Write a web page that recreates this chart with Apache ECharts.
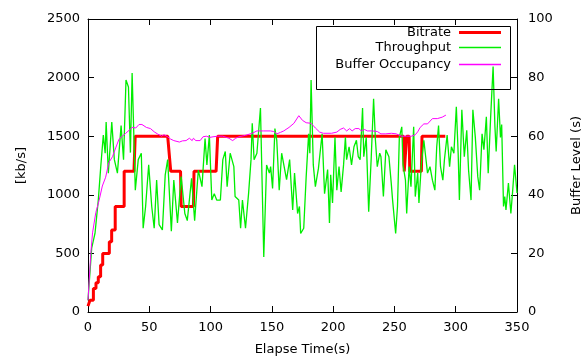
<!DOCTYPE html>
<html>
<head>
<meta charset="utf-8">
<script src="https://cdn.jsdelivr.net/npm/echarts@6/dist/echarts.min.js"></script>
<style>
html,body{margin:0;padding:0;background:#fff;}
#chart{width:587px;height:358px;}
</style>
</head>
<body>
<div id="chart"></div>
<script>
// ---- Data ----
const xTicks = [0, 50, 100, 150, 200, 250, 300, 350];
const leftTicks = [0, 500, 1000, 1500, 2000, 2500];
const rightTicks = [0, 20, 40, 60, 80, 100];

const seriesNames = ['Bitrate', 'Throughput', 'Buffer Occupancy'];

// Bitrate (kb/s), step function: time / value pairs
const bitrateTime = [0, 1.6, 1.6, 4.4, 4.4, 6.5, 6.5, 8.4, 8.4, 10.3, 10.3, 12, 12, 17.4, 17.4, 19.3, 19.3, 22.2, 22.2, 29.5, 29.5, 37.5, 38.5, 65, 67.5, 75.5, 76, 86, 86.5, 104.5, 105.8, 257.5, 258, 259.5, 260, 262, 262.5, 272, 272.5, 291.5];
const bitrateKbps = [50, 50, 100, 100, 200, 200, 250, 250, 300, 300, 400, 400, 500, 500, 600, 600, 700, 700, 900, 900, 1200, 1200, 1500, 1500, 1200, 1200, 900, 900, 1200, 1200, 1500, 1500, 1200, 1200, 1500, 1500, 1200, 1200, 1500, 1500];

// Throughput (kb/s)
const throughputTime = [0, 3, 5.7, 8.4, 10.4, 12.5, 14, 14.8, 16.6, 19.4, 21.5, 24, 27, 29, 31, 33, 34.6, 36, 37, 38.6, 41, 43.5, 45, 47, 49.5, 52, 54, 56, 58, 60.7, 63, 65, 68, 70, 73, 76, 79, 81, 84.5, 87, 90, 93, 95.5, 97, 99, 101, 103, 105, 108, 110, 112, 113.5, 116, 119, 120, 123, 124.5, 126, 128.5, 131, 133, 134, 135.5, 137.8, 140.7, 143.4, 145.7, 148, 149, 150.6, 152.5, 154, 156, 158, 159.5, 162, 164.5, 167, 168.5, 171, 172.5, 173.5, 176, 178, 180, 181, 182, 183.8, 185.5, 188, 189, 191, 193, 195.5, 197, 198, 199.5, 201.5, 203, 204.8, 206.5, 208.5, 210, 211, 213, 215, 217, 219, 220.5, 222, 224, 225, 227, 229, 231, 233, 234.5, 236, 238, 239, 241, 243, 245.5, 247.4, 248.5, 251, 252.5, 254, 256, 257, 259, 260, 262, 263.5, 265.7, 267, 269, 270, 272, 274, 275.5, 277, 279, 281, 283, 284.5, 286, 287.6, 289.5, 290.8, 293, 295, 296.5, 298.5, 300.5, 302, 303, 305, 307, 309, 310.5, 312.5, 314, 316, 318, 319.5, 321.5, 323, 325, 326.5, 328.5, 330.5, 332, 333, 335, 336.5, 337.5, 339, 340, 341, 343, 345, 346.5, 348, 350];
const throughputKbps = [100, 545, 670, 955, 1240, 1510, 1355, 1620, 1185, 1620, 1300, 1185, 1590, 1300, 1980, 1920, 1360, 2040, 1660, 1040, 1300, 1355, 715, 900, 1255, 900, 715, 1125, 745, 700, 1170, 1300, 690, 1125, 760, 1155, 840, 780, 1140, 780, 1210, 1070, 1480, 1255, 1510, 955, 1010, 955, 955, 1300, 1370, 1070, 1355, 1240, 985, 955, 715, 955, 715, 1010, 1300, 1610, 1300, 1355, 1740, 470, 1255, 1185, 1240, 1055, 1565, 1465, 1040, 1355, 1370, 1130, 1300, 870, 1185, 840, 900, 670, 715, 1155, 1520, 1355, 1980, 1255, 1070, 1225, 1325, 1520, 1010, 1215, 760, 1170, 930, 1490, 1040, 1240, 1025, 1255, 1490, 1300, 1410, 1255, 1410, 1465, 1325, 1300, 1740, 1325, 1490, 855, 1300, 1820, 1465, 1240, 1355, 1325, 985, 1385, 1325, 1100, 955, 670, 900, 1490, 1580, 1255, 1125, 840, 1240, 1070, 1580, 985, 1185, 930, 1270, 1465, 1325, 1185, 1240, 1125, 1040, 1410, 1590, 1240, 1125, 1300, 1510, 1240, 1410, 1355, 1750, 1355, 955, 1725, 1325, 1550, 1210, 955, 1725, 1490, 1155, 1040, 1520, 1385, 1665, 1185, 1665, 2095, 1580, 1370, 1820, 1490, 1600, 900, 985, 870, 1100, 840, 1040, 1255, 1015];

// Buffer occupancy (s)
const bufferTime = [0, 2.3, 3.7, 6.4, 9, 11.7, 14.4, 17, 20, 22.6, 25.3, 28, 30.8, 33.5, 36, 39, 41.6, 44, 47.6, 51, 54, 56.6, 60, 62, 65, 67.5, 70, 74.6, 77, 80, 82.7, 85, 86, 88, 91.5, 93.8, 96.5, 99.5, 102, 105.8, 110, 115, 118, 120.5, 123, 128.5, 134, 137.8, 143.3, 148.8, 151.5, 154, 157, 159.7, 164, 168, 172, 175, 178, 182, 185.5, 189, 192, 198.7, 203, 205.7, 208.5, 211, 213.5, 215.5, 218, 221, 223, 225.5, 228, 232, 236, 239, 243, 247.5, 251.5, 255.7, 259.8, 264, 267, 269, 271, 274, 277, 281, 285, 289, 292];
const bufferSec = [4, 20, 27, 34, 38, 43, 46, 51, 53, 56, 59, 60, 61, 62, 63, 62.8, 64, 64, 63, 62.6, 61.5, 60.8, 60, 60.5, 59.8, 59, 58.5, 58, 58.4, 58.5, 59.3, 58.5, 59.3, 58.5, 58.5, 59.8, 60, 59.6, 59.8, 60, 60, 59.3, 58.5, 59.3, 59.8, 60.3, 61, 61.8, 61.8, 61.8, 61.6, 60.8, 61.3, 61.8, 63, 64.4, 67, 65.4, 64.6, 64.4, 62.8, 61.4, 61, 61, 61.4, 62.3, 62.8, 61.8, 62.6, 61.8, 62.6, 62.6, 61.8, 62.3, 61.8, 61.8, 61.6, 60.8, 60.8, 61, 60.8, 60, 60, 60, 60.5, 61.5, 63, 64.2, 64.2, 66, 66, 66.5, 67.2];

// ---- Build ----
const zip = (a, b) => a.map((v, i) => [v, b[i]]);
const FONT = 'DejaVu Sans';
const txt = {fontFamily: FONT, fontSize: 13, color: '#000'};
const plain = v => String(v);

const COLORS = ['#ff0000', '#00ee00', '#ff00ff'];
const WIDTHS = [3, 1.3, 1];
const ICON_H = [3, 1.5, 1.5];

const chart = echarts.init(document.getElementById('chart'), null, {renderer: 'canvas'});

const axisCommon = {
  axisLine: {show: true, onZero: false, lineStyle: {color: '#000', width: 1}},
  axisTick: {show: true, inside: true, length: 6, lineStyle: {color: '#000', width: 1}},
  splitLine: {show: false},
  minorTick: {show: false}
};

function legendFor(i, top) {
  return {
    data: [seriesNames[i]], right: 86, top: top, orient: 'vertical', align: 'right',
    icon: 'rect', itemWidth: 42, itemHeight: ICON_H[i], padding: 0, selectedMode: false,
    itemStyle: {color: COLORS[i], borderWidth: 0, opacity: 1},
    textStyle: Object.assign({}, txt, {padding: [0, 3, 0, 0]})
  };
}

const option = {
  animation: false,
  backgroundColor: '#fff',
  textStyle: {fontFamily: FONT},
  grid: {left: 88, right: 70, top: 19, bottom: 46, containLabel: false, outerBoundsMode: 'none'},
  legend: [
    legendFor(0, 26),
    legendFor(1, 41),
    legendFor(2, 58)
  ],
  graphic: [{
    type: 'rect', left: 314, top: 24, z: 100,
    shape: {x: 0, y: 0, width: 194, height: 63},
    style: {fill: 'none', stroke: '#000', lineWidth: 1}
  }],
  xAxis: [
    Object.assign({}, axisCommon, {
      type: 'value', position: 'bottom', min: xTicks[0], max: xTicks[xTicks.length - 1], interval: xTicks[1] - xTicks[0],
      name: 'Elapse Time(s)', nameLocation: 'middle', nameGap: 31, nameTextStyle: txt,
      axisLabel: Object.assign({}, txt, {margin: 9, formatter: plain})
    }),
    Object.assign({}, axisCommon, {
      type: 'value', position: 'top', min: xTicks[0], max: xTicks[xTicks.length - 1], interval: xTicks[1] - xTicks[0],
      axisLabel: {show: false}
    })
  ],
  yAxis: [
    Object.assign({}, axisCommon, {
      type: 'value', position: 'left', min: leftTicks[0], max: leftTicks[leftTicks.length - 1], interval: leftTicks[1] - leftTicks[0],
      name: '[kb/s]', nameLocation: 'middle', nameGap: 60, nameRotate: 90, nameTextStyle: txt,
      axisLabel: Object.assign({}, txt, {margin: 8, formatter: plain})
    }),
    Object.assign({}, axisCommon, {
      type: 'value', position: 'right', min: rightTicks[0], max: rightTicks[rightTicks.length - 1], interval: rightTicks[1] - rightTicks[0],
      name: 'Buffer Level (s)', nameLocation: 'middle', nameGap: 53, nameRotate: 90, nameTextStyle: txt,
      axisLabel: Object.assign({}, txt, {margin: 11, formatter: plain})
    })
  ],
  series: [
    {
      name: seriesNames[0], type: 'line', xAxisIndex: 0, yAxisIndex: 0,
      data: zip(bitrateTime, bitrateKbps), showSymbol: false, symbol: 'none',
      lineStyle: {color: COLORS[0], width: WIDTHS[0]}, itemStyle: {color: COLORS[0]}, z: 2
    },
    {
      name: seriesNames[1], type: 'line', xAxisIndex: 0, yAxisIndex: 0,
      data: zip(throughputTime, throughputKbps), showSymbol: false, symbol: 'none',
      lineStyle: {color: COLORS[1], width: WIDTHS[1]}, itemStyle: {color: COLORS[1]}, z: 3
    },
    {
      name: seriesNames[2], type: 'line', xAxisIndex: 0, yAxisIndex: 1,
      data: zip(bufferTime, bufferSec), showSymbol: false, symbol: 'none',
      lineStyle: {color: COLORS[2], width: WIDTHS[2]}, itemStyle: {color: COLORS[2]}, z: 4
    }
  ]
};
chart.setOption(option);
</script>
</body>
</html>
